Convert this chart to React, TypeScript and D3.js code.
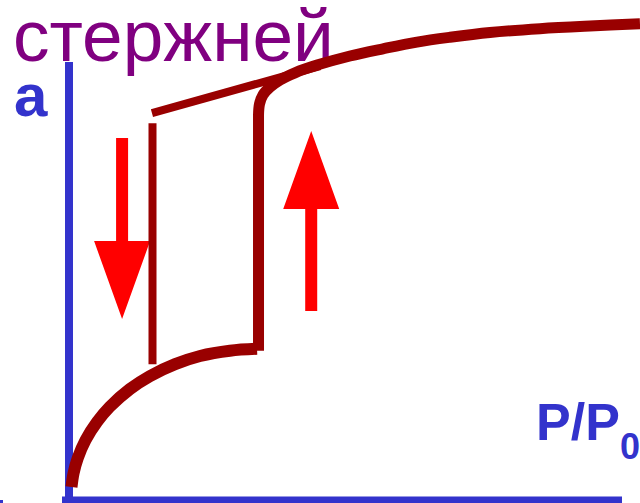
import React from "react";
import * as d3 from "d3";

// Adsorption branch (lower part), P/P0 vs a (relative units)
const adsLowerX = [0.0045, 0.0083, 0.0159, 0.030, 0.0506, 0.0736, 0.110, 0.146, 0.192, 0.237, 0.291, 0.340];
const adsLowerY = [0.027, 0.056, 0.0875, 0.125, 0.1625, 0.194, 0.231, 0.258, 0.283, 0.300, 0.311, 0.315];
// Adsorption capillary condensation step
const adsStepX = [0.3427, 0.3427];
const adsStepY = [0.311, 0.804];
// Upper (saturation) branch
const upperX = [0.3427, 0.3445, 0.3508, 0.3635, 0.3816, 0.4087, 0.4485, 0.5081, 0.5678, 0.6293, 0.689, 0.7613, 0.8517, 0.9421, 1.0325];
const upperY = [0.802, 0.825, 0.844, 0.86, 0.875, 0.89, 0.906, 0.925, 0.94, 0.954, 0.964, 0.974, 0.982, 0.9875, 0.992];
// Desorption branch
const desSlantX = [0.15, 0.454];
const desSlantY = [0.806, 0.904];
const desStepX = [0.151, 0.151];
const desStepY = [0.785, 0.283];
// Arrows: [x, fromA, toA]
const arrowX = [0.096, 0.438];
const arrowFrom = [0.754, 0.394];
const arrowTo = [0.377, 0.769];

const titleText = "стержней";
const yLabel = "a";
const xLabel = "P/P";
const xLabelSub = "0";

const W = 640;
const H = 503;

export default function App() {
  const x = d3.scaleLinear().domain([0, 1]).range([69, 622]);
  const y = d3.scaleLinear().domain([0, 1]).range([500, 20]);

  const toPts = (xs: number[], ys: number[]) => xs.map((v, i) => [v, ys[i]] as [number, number]);
  const smooth = d3
    .line<[number, number]>()
    .x((d) => x(d[0]))
    .y((d) => y(d[1]))
    .curve(d3.curveCatmullRom.alpha(0.5));
  const straight = d3
    .line<[number, number]>()
    .x((d) => x(d[0]))
    .y((d) => y(d[1]));

  const dark = "#990000";
  const blue = "#3333CC";
  const red = "#FF0000";

  const arrows = arrowX.map((ax, i) => {
    const cx = x(ax);
    const y0 = y(arrowFrom[i]);
    const y1 = y(arrowTo[i]);
    const dir = y1 > y0 ? 1 : -1;
    const headLen = 78;
    const headHalf = 28;
    const shaftHalf = 6;
    const yb = y1 - dir * headLen;
    const path = [
      [cx - shaftHalf, y0],
      [cx + shaftHalf, y0],
      [cx + shaftHalf, yb],
      [cx + headHalf, yb],
      [cx, y1],
      [cx - headHalf, yb],
      [cx - shaftHalf, yb],
    ];
    return "M" + path.map((p) => p.join(",")).join("L") + "Z";
  });

  const [x0, x1] = x.range();
  const yBase = y(0);

  return (
    <svg
      width={W}
      height={H}
      style={{ position: "absolute", left: 0, top: 0, background: "#fff" }}
    >
      <text
        x={13}
        y={61}
        fontFamily="'Liberation Sans', Arial, sans-serif"
        fontSize={73}
        fill="#800080"
      >
        {titleText}
      </text>
      <text
        x={14}
        y={116}
        fontFamily="'Liberation Sans', Arial, sans-serif"
        fontWeight="bold"
        fontSize={60}
        fill={blue}
      >
        {yLabel}
      </text>
      <text
        x={536}
        y={440}
        fontFamily="'Liberation Sans', Arial, sans-serif"
        fontWeight="bold"
        fontSize={52}
        fill={blue}
      >
        {xLabel}
      </text>
      <text
        x={620}
        y={459}
        fontFamily="'Liberation Sans', Arial, sans-serif"
        fontWeight="bold"
        fontSize={36}
        fill={blue}
      >
        {xLabelSub}
      </text>

      {/* axes */}
      <line x1={x0} y1={62} x2={x0} y2={H} stroke={blue} strokeWidth={8} />
      <line x1={x0 - 7} y1={yBase} x2={x1} y2={yBase} stroke={blue} strokeWidth={7} />
      <rect x={0} y={500} width={3} height={3} fill={blue} />

      {/* arrows */}
      {arrows.map((d, i) => (
        <path key={i} d={d} fill={red} />
      ))}

      {/* isotherm */}
      <path d={smooth(toPts(adsLowerX, adsLowerY)) || ""} fill="none" stroke={dark} strokeWidth={12} />
      <path d={straight(toPts(adsStepX, adsStepY)) || ""} fill="none" stroke={dark} strokeWidth={11} />
      <path d={smooth(toPts(upperX, upperY)) || ""} fill="none" stroke={dark} strokeWidth={11} />
      <path d={straight(toPts(desSlantX, desSlantY)) || ""} fill="none" stroke={dark} strokeWidth={8} />
      <path d={straight(toPts(desStepX, desStepY)) || ""} fill="none" stroke={dark} strokeWidth={8} />
    </svg>
  );
}
